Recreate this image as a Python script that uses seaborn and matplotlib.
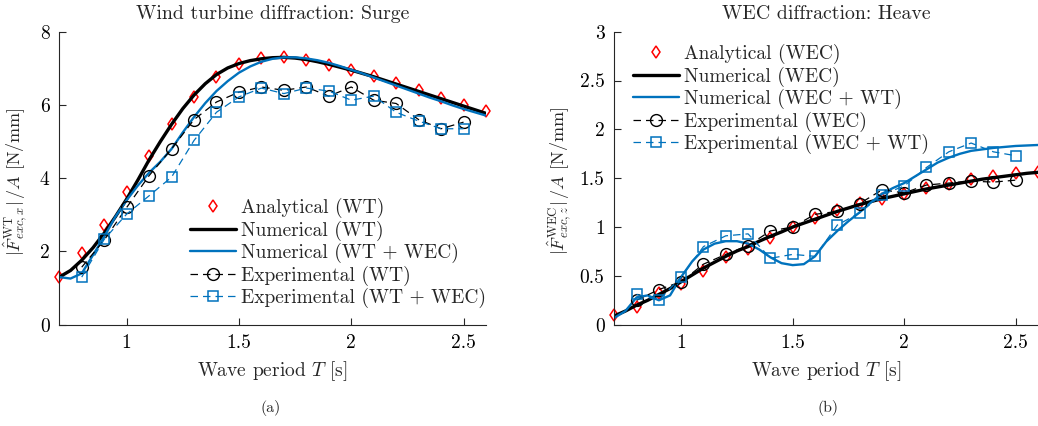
import numpy as np
import pandas as pd
import matplotlib
matplotlib.use("Agg")
import matplotlib.pyplot as plt
import seaborn as sns

# ---------------- data ----------------
# wave periods of the tested / analytical points [s]
T_pts = [0.7, 0.8, 0.9, 1.0, 1.1, 1.2, 1.3, 1.4, 1.5, 1.6,
         1.7, 1.8, 1.9, 2.0, 2.1, 2.2, 2.3, 2.4, 2.5, 2.6]
T_exp = T_pts[1:-1]  # experiments run from 0.8 s to 2.5 s
# dense period grid used for the numerical curves [s]
T_num = [0.70, 0.75, 0.80, 0.85, 0.90, 0.95, 1.00, 1.05, 1.10, 1.15,
         1.20, 1.25, 1.30, 1.35, 1.40, 1.45, 1.50, 1.55, 1.60, 1.65,
         1.70, 1.75, 1.80, 1.85, 1.90, 1.95, 2.00, 2.05, 2.10, 2.15,
         2.20, 2.25, 2.30, 2.35, 2.40, 2.45, 2.50, 2.55, 2.60]

# (a) wind turbine, surge [N/mm]
wt_analytical = [1.31, 1.96, 2.72, 3.62, 4.60, 5.49, 6.22, 6.77, 7.13, 7.29,
                 7.31, 7.22, 7.09, 6.95, 6.79, 6.60, 6.40, 6.20, 6.01, 5.83]
wt_numerical = [1.30, 1.48, 1.76, 2.10, 2.50, 2.95, 3.43, 3.95, 4.50, 5.00,
                5.47, 5.90, 6.27, 6.58, 6.83, 7.01, 7.13, 7.21, 7.26, 7.29,
                7.30, 7.28, 7.24, 7.18, 7.11, 7.03, 6.95, 6.86, 6.77, 6.67,
                6.57, 6.47, 6.37, 6.27, 6.17, 6.07, 5.97, 5.87, 5.77]
wt_wec_numerical = [1.30, 1.26, 1.40, 1.90, 2.40, 2.95, 3.40, 3.80, 4.15, 4.45,
                    4.80, 5.25, 5.67, 6.05, 6.38, 6.65, 6.88, 7.05, 7.18, 7.26,
                    7.30, 7.30, 7.27, 7.22, 7.15, 7.06, 6.96, 6.86, 6.75, 6.64,
                    6.53, 6.42, 6.31, 6.20, 6.10, 5.99, 5.89, 5.80, 5.71]
wt_experimental = [1.57, 2.31, 3.20, 4.07, 4.80, 5.60, 6.08, 6.35, 6.49,
                   6.40, 6.49, 6.24, 6.49, 6.13, 6.04, 5.60, 5.35, 5.53]
wt_wec_experimental = [1.30, 2.33, 3.02, 3.52, 4.03, 5.03, 5.80, 6.22, 6.46,
                       6.31, 6.46, 6.38, 6.13, 6.24, 5.80, 5.56, 5.35, 5.35]

# (b) WEC, heave [N/mm]
wec_analytical = [0.10, 0.18, 0.32, 0.42, 0.545, 0.69, 0.775, 0.89, 1.00, 1.09,
                  1.17, 1.25, 1.29, 1.34, 1.40, 1.44, 1.49, 1.52, 1.55, 1.56]
wec_numerical = [0.09, 0.14, 0.20, 0.25, 0.31, 0.37, 0.44, 0.51, 0.58, 0.64,
                 0.70, 0.755, 0.80, 0.855, 0.905, 0.95, 1.00, 1.04, 1.08, 1.12,
                 1.16, 1.195, 1.23, 1.26, 1.29, 1.315, 1.34, 1.365, 1.39, 1.41,
                 1.43, 1.45, 1.47, 1.49, 1.505, 1.52, 1.535, 1.55, 1.56]
wec_wt_numerical = [0.07, 0.14, 0.28, 0.30, 0.25, 0.30, 0.49, 0.65, 0.77, 0.83,
                    0.855, 0.855, 0.83, 0.77, 0.69, 0.63, 0.61, 0.62, 0.70, 0.85,
                    0.96, 1.06, 1.15, 1.25, 1.34, 1.40, 1.45, 1.52, 1.59, 1.66,
                    1.71, 1.75, 1.78, 1.795, 1.81, 1.82, 1.83, 1.835, 1.84]
wec_experimental = [0.25, 0.36, 0.44, 0.62, 0.72, 0.81, 0.96, 1.00, 1.13,
                    1.16, 1.24, 1.38, 1.35, 1.43, 1.45, 1.47, 1.46, 1.48]
wec_wt_experimental = [0.31, 0.25, 0.49, 0.80, 0.91, 0.93, 0.68, 0.72, 0.70,
                       1.02, 1.145, 1.33, 1.42, 1.61, 1.77, 1.86, 1.77, 1.73]

x_ticks = [1.0, 1.5, 2.0, 2.5]
x_ticklabels = ["1", "1.5", "2", "2.5"]
yticks_a = [0, 2, 4, 6, 8]
yticklabels_a = ["0", "2", "4", "6", "8"]
yticks_b = [0, 0.5, 1, 1.5, 2, 2.5, 3]
yticklabels_b = ["0", "0.5", "1", "1.5", "2", "2.5", "3"]

# ---------------- style ----------------
sns.set_style("ticks")
plt.rcParams.update({
    "font.family": ["cmr10", "DejaVu Serif"],
    "mathtext.fontset": "cm",
    "axes.formatter.use_mathtext": True,
    "axes.edgecolor": "#262626",
    "axes.linewidth": 0.8,
    "axes.unicode_minus": False,
})

BLUE = "#0072BD"
FS = 14

fig = plt.figure(figsize=(10.38, 4.26), dpi=100)
ax_a = fig.add_axes([0.0571, 0.2378, 0.4111, 0.6878])
ax_b = fig.add_axes([0.5918, 0.2378, 0.4082, 0.6878])


def draw_panel(ax, T_pts, T_num, T_exp, ana, num, num2, exp1, exp2, names):
    sns.lineplot(x=T_pts, y=ana, ax=ax, linestyle="none", marker="d",
                 markersize=6.6, markerfacecolor="none", markeredgecolor="red",
                 markeredgewidth=1.1, color="red", label=names[0],
                 clip_on=False)
    sns.lineplot(x=T_num, y=num, ax=ax, color="black", linewidth=2.4,
                 label=names[1])
    sns.lineplot(x=T_num, y=num2, ax=ax, color=BLUE, linewidth=1.7,
                 label=names[2])
    sns.lineplot(x=T_exp, y=exp1, ax=ax, color="black", linewidth=0.9,
                 linestyle=(0, (6, 4)), marker="o", markersize=8.5,
                 markerfacecolor="none", markeredgecolor="black",
                 markeredgewidth=1.0, label=names[3])
    sns.lineplot(x=T_exp, y=exp2, ax=ax, color=BLUE, linewidth=0.9,
                 linestyle=(0, (6, 4)), marker="s", markersize=6.5,
                 markerfacecolor="none", markeredgecolor=BLUE,
                 markeredgewidth=1.1, label=names[4])
    ax.set_xlim(0.7, 2.6)
    ax.set_xticks(x_ticks)
    ax.set_xticklabels(x_ticklabels)
    ax.tick_params(direction="in", length=5, width=0.8, labelsize=FS,
                   pad=7, colors="#262626", labelcolor="black")
    for side in ("top", "right"):
        ax.spines[side].set_visible(False)
    ax.set_xlabel(r"Wave period $T$ [s]", fontsize=FS, labelpad=5)


draw_panel(ax_a, T_pts, T_num, T_exp, wt_analytical, wt_numerical,
           wt_wec_numerical, wt_experimental, wt_wec_experimental,
           ["Analytical (WT)", "Numerical (WT)", "Numerical (WT + WEC)",
            "Experimental (WT)", "Experimental (WT + WEC)"])
draw_panel(ax_b, T_pts, T_num, T_exp, wec_analytical, wec_numerical,
           wec_wt_numerical, wec_experimental, wec_wt_experimental,
           ["Analytical (WEC)", "Numerical (WEC)", "Numerical (WEC + WT)",
            "Experimental (WEC)", "Experimental (WEC + WT)"])

ax_a.set_ylim(0, 8)
ax_a.set_yticks(yticks_a)
ax_a.set_yticklabels(yticklabels_a)
ax_b.set_ylim(0, 3)
ax_b.set_yticks(yticks_b)
ax_b.set_yticklabels(yticklabels_b)

YFS = 13
ax_a.set_ylabel(r"$|\hat{F}^{\mathrm{WT}}_{exc,x}|\,/A$ [N/mm]", fontsize=YFS)
ax_b.set_ylabel(r"$|\hat{F}^{\mathrm{WEC}}_{exc,z}|\,/A$ [N/mm]", fontsize=YFS)
ax_a.yaxis.set_label_coords(-0.068, 0.49)
ax_b.yaxis.set_label_coords(-0.094, 0.49)

ax_a.set_title("Wind turbine diffraction: Surge", fontsize=14.3, pad=9)
ax_b.set_title("WEC diffraction: Heave", fontsize=14.3, pad=9)

W, H = 1038.0, 426.0
for ax, (lx, ty) in ((ax_a, (190, 198)), (ax_b, (633, 44))):
    handles, labels = ax.get_legend_handles_labels()
    ax.legend(handles, labels, loc="upper left",
              bbox_to_anchor=(lx / W, 1 - ty / H), bbox_transform=fig.transFigure,
              frameon=False, fontsize=FS, borderpad=0, borderaxespad=0,
              handlelength=2.35, handletextpad=0.25, labelspacing=0.12,
              numpoints=1)

fig.text(271 / W, 1 - 408 / H, "(a)", ha="center", va="center", fontsize=11.5)
fig.text(828 / W, 1 - 408 / H, "(b)", ha="center", va="center", fontsize=11.5)

fig.savefig("out.png", dpi=100)
